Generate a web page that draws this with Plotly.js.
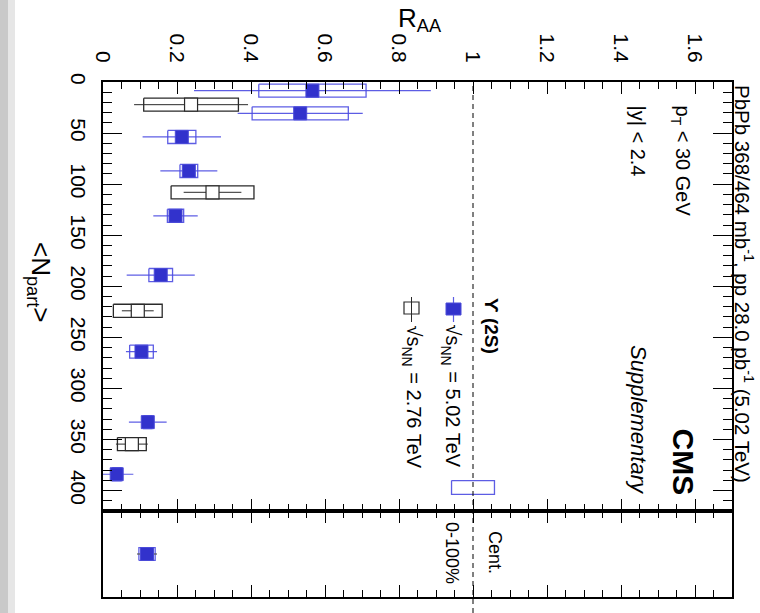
<!DOCTYPE html>
<html><head><meta charset="utf-8">
<script src="https://cdn.plot.ly/plotly-3.0.1.min.js"></script>
<style>html,body{margin:0;padding:0;background:#fff}#chart{width:760px;height:613px}</style>
</head><body><div id="chart"></div>
<script>
// ---- data: Upsilon(2S) R_AA vs <Npart> ----
// 5.02 TeV (filled blue)
const npart502 = [8.5, 30.7, 53.8, 87.1, 131, 189, 264, 333, 384];
const raa502   = [0.566, 0.533, 0.213, 0.232, 0.196, 0.156, 0.104, 0.121, 0.037];
const stat502  = [0.320, 0.169, 0.106, 0.077, 0.060, 0.092, 0.042, 0.051, 0.045];
const syst502  = [0.145, 0.130, 0.038, 0.024, 0.022, 0.032, 0.032, 0.011, 0.012];
// 2.76 TeV (open black)
const npart276 = [22.2, 108, 224, 354.5];
const raa276   = [0.238, 0.296, 0.094, 0.078];
const stat276  = [0.154, 0.078, 0.043, 0.043];
const syst276  = [0.128, 0.112, 0.066, 0.039];
// centrality integrated 0-100% (5.02 TeV)
const centLabel = ['0-100%'];
const raaInt502  = [0.119];
const statInt502 = [0.027];
const systInt502 = [0.022];
// global uncertainty at unity (5.02 TeV)
const globalUnc502 = [0.058];
// ticks
const raaTicks   = [0, 0.2, 0.4, 0.6, 0.8, 1, 1.2, 1.4, 1.6];
const raaTickText = ['0', '0.2', '0.4', '0.6', '0.8', '1', '1.2', '1.4', '1.6'];
const npartTicks = [0, 50, 100, 150, 200, 250, 300, 350, 400];

// ---- geometry helpers (pixel -> paper) ----
const W = 760, H = 613, ML = 103, MR = 28, MT = 82, MB = 16;
const PW = W - ML - MR, PH = H - MT - MB;
const splitPx = 511;
const lowFrac = (H - MB - splitPx) / PH;
const px = x => (x - ML) / PW;
const py = y => (H - MB - y) / PH;

const BOX_HALF_N = 6.4;     // half height of systematic boxes in Npart units
const BOX_HALF_LOW = 0.075; // same in lower panel units

function boxPath(xs, ys, half, hh) {
  const X = [], Y = [];
  for (let i = 0; i < xs.length; i++) {
    const x0 = xs[i] - half[i], x1 = xs[i] + half[i];
    const y0 = ys[i] - hh, y1 = ys[i] + hh;
    X.push(x0, x1, x1, x0, x0, null);
    Y.push(y0, y0, y1, y1, y0, null);
  }
  return {x: X, y: Y};
}

const BLUE = '#3232cc';
const BLUE_LINE = 'rgba(75,75,225,0.9)';
const BLACK_LINE = '#2a2a2a';

const bBox = boxPath(raa502, npart502, syst502, BOX_HALF_N);
const kBox = boxPath(raa276, npart276, syst276, BOX_HALF_N);
const gBox = boxPath([1], [397], globalUnc502, 6.8);
const lowY = [0.5];
const iBox = boxPath(raaInt502, lowY, systInt502, BOX_HALF_LOW);

const traces = [
  {type:'scatter', mode:'lines', x:bBox.x, y:bBox.y, xaxis:'x', yaxis:'y', line:{color:BLUE_LINE, width:1.3}, hoverinfo:'skip'},
  {type:'scatter', mode:'lines', x:kBox.x, y:kBox.y, xaxis:'x', yaxis:'y', line:{color:BLACK_LINE, width:1.3}, hoverinfo:'skip'},
  {type:'scatter', mode:'lines', x:gBox.x, y:gBox.y, xaxis:'x', yaxis:'y', line:{color:BLUE_LINE, width:1.3}, hoverinfo:'skip'},
  {type:'scatter', mode:'lines', x:iBox.x, y:iBox.y, xaxis:'x2', yaxis:'y2', line:{color:BLUE_LINE, width:1.3}, hoverinfo:'skip'},
  // stat error bars
  {type:'scatter', mode:'markers', x:raa502, y:npart502, xaxis:'x', yaxis:'y',
   marker:{size:1, color:'rgba(0,0,0,0)'},
   error_x:{type:'data', array:stat502, width:0, thickness:1.2, color:BLUE_LINE}},
  {type:'scatter', mode:'markers', x:raa276, y:npart276, xaxis:'x', yaxis:'y',
   marker:{size:1, color:'rgba(0,0,0,0)'},
   error_x:{type:'data', array:stat276, width:0, thickness:1, color:BLACK_LINE}},
  {type:'scatter', mode:'markers', x:raaInt502, y:lowY, xaxis:'x2', yaxis:'y2',
   marker:{size:1, color:'rgba(0,0,0,0)'},
   error_x:{type:'data', array:statInt502, width:0, thickness:1.2, color:'#555'}},
  // markers
  {type:'scatter', mode:'markers', name:'5.02 TeV', x:raa502, y:npart502, xaxis:'x', yaxis:'y',
   marker:{symbol:'square', size:13, color:BLUE, line:{color:'#4a4ad8', width:1}}},
  {type:'scatter', mode:'markers', name:'2.76 TeV', x:raa276, y:npart276, xaxis:'x', yaxis:'y',
   marker:{symbol:'square', size:13, color:'#ffffff', line:{color:BLACK_LINE, width:1.2}}},
  {type:'scatter', mode:'markers', name:centLabel[0], x:raaInt502, y:lowY, xaxis:'x2', yaxis:'y2',
   marker:{symbol:'square', size:13, color:BLUE, line:{color:'#4a4ad8', width:1}}}
];

const axBase = {showgrid:false, zeroline:false, showline:true, linewidth:2, linecolor:'#000',
  ticks:'inside', tickcolor:'#000', tickwidth:1};

const FONT = 'Liberation Sans, Arial, Helvetica, sans-serif';

const ann = (x, y, text, size, opts) => Object.assign({
  xref:'paper', yref:'paper', x:px(x), y:py(y), text:text, showarrow:false,
  textangle:90, xanchor:'center', yanchor:'middle',
  font:{family:FONT, size:size, color:'#000'}
}, opts || {});

const layout = {
  width:W, height:H,
  margin:{l:ML, r:MR, t:MT, b:MB, pad:0},
  paper_bgcolor:'#fff', plot_bgcolor:'#fff',
  showlegend:false,
  font:{family:FONT, color:'#000'},
  xaxis:Object.assign({}, axBase, {domain:[0,1], anchor:'y', side:'top', range:[0,1.7],
    tickmode:'array', tickvals:raaTicks, ticktext:raaTickText, ticklen:12, mirror:'ticks',
    tickangle:90, tickfont:{size:21, family:FONT}, ticklabelstandoff:10,
    minor:{tick0:0, dtick:0.05, ticks:'inside', ticklen:7, tickcolor:'#000', tickwidth:1, showgrid:false}}),
  xaxis2:Object.assign({}, axBase, {domain:[0,1], anchor:'y2', range:[0,1.7], matches:'x',
    tickmode:'array', tickvals:raaTicks, ticklen:12, mirror:'ticks', showticklabels:false,
    minor:{tick0:0, dtick:0.05, ticks:'inside', ticklen:7, tickcolor:'#000', tickwidth:1, showgrid:false}}),
  yaxis:Object.assign({}, axBase, {domain:[lowFrac,1], anchor:'x', range:[420,0],
    tickmode:'array', tickvals:npartTicks, ticklen:19, mirror:'ticks',
    tickangle:90, tickfont:{size:21, family:FONT}, ticklabelstandoff:5,
    minor:{tick0:0, dtick:10, ticks:'inside', ticklen:9, tickcolor:'#000', tickwidth:1, showgrid:false}}),
  yaxis2:{domain:[0,lowFrac], anchor:'x2', range:[0,1], showgrid:false, zeroline:false,
    showline:true, linewidth:2, linecolor:'#000', mirror:true, ticks:'', showticklabels:false},
  shapes:[
    {type:'rect', xref:'paper', yref:'paper', x0:px(0), x1:px(8), y0:py(H), y1:py(0), fillcolor:'#c9c9c9', line:{width:0}, layer:'below'},
    {type:'rect', xref:'paper', yref:'paper', x0:px(8), x1:px(15), y0:py(H), y1:py(0), fillcolor:'#e6e6e6', line:{width:0}, layer:'below'},
    {type:'line', xref:'x', yref:'paper', x0:1, x1:1, y0:py(H), y1:1, line:{color:'#000', width:1, dash:'5px,4px'}},
    // legend glyphs
    {type:'line', xref:'paper', yref:'paper', x0:px(453.5), x1:px(453.5), y0:py(297), y1:py(322), line:{color:BLUE_LINE, width:1.2}},
    {type:'rect', xref:'paper', yref:'paper', x0:px(446), x1:px(461), y0:py(303), y1:py(315), fillcolor:BLUE, line:{color:'#4a4ad8', width:1}},
    {type:'line', xref:'paper', yref:'paper', x0:px(411.5), x1:px(411.5), y0:py(297), y1:py(322), line:{color:BLACK_LINE, width:1}},
    {type:'rect', xref:'paper', yref:'paper', x0:px(404), x1:px(419), y0:py(302), y1:py(314), fillcolor:'rgba(0,0,0,0)', line:{color:BLACK_LINE, width:1.2}}
  ],
  annotations:[
    ann(420, 19, 'R<sub>AA</sub>', 26, {textangle:0}),
    ann(40, 282, '&lt;N<sub>part</sub>&gt;', 26),
    ann(744, 83, 'PbPb 368/464 mb<sup>-1</sup>, pp 28.0 pb<sup>-1</sup> (5.02 TeV)', 20.5, {yanchor:'top'}),
    ann(683, 497, '<b>CMS</b>', 30, {yanchor:'bottom'}),
    ann(639, 497, '<i>Supplementary</i>', 22, {yanchor:'bottom'}),
    ann(681, 103, 'p<sub>T</sub> &lt; 30 GeV', 20, {yanchor:'top'}),
    ann(637, 103, '|y| &lt; 2.4', 20, {yanchor:'top'}),
    ann(492, 296, '<b>ϒ (2S)</b>', 19, {yanchor:'top'}),
    ann(451, 323, '√s<sub>NN</sub> = 5.02 TeV', 20, {yanchor:'top'}),
    ann(412, 323, '√s<sub>NN</sub> = 2.76 TeV', 20, {yanchor:'top'}),
    ann(495, 552, 'Cent.', 18),
    ann(452, 553, centLabel[0], 18)
  ]
};

Plotly.newPlot('chart', traces, layout, {staticPlot:true, displayModeBar:false});
</script>
</body></html>
